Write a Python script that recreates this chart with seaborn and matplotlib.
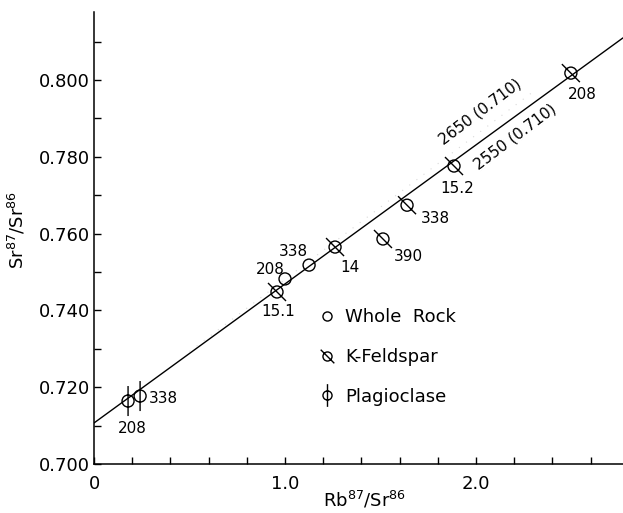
import numpy as np
import pandas as pd
import matplotlib
matplotlib.use("Agg")
import matplotlib.pyplot as plt
from matplotlib.path import Path
from matplotlib.lines import Line2D
import seaborn as sns

# values
mineral = ['Plagioclase', 'Plagioclase', 'K-Feldspar', 'Whole Rock', 'Whole Rock',
           'K-Feldspar', 'K-Feldspar', 'K-Feldspar', 'K-Feldspar', 'K-Feldspar']
rb_sr = [0.178, 0.241, 0.958, 1.000, 1.126, 1.262, 1.513, 1.639, 1.885, 2.497]
sr_sr = [0.7164, 0.7177, 0.7448, 0.7482, 0.7518, 0.7565, 0.7586, 0.7674, 0.7776, 0.8018]
sample = ['208', '338', '15.1', '208', '338', '14', '390', '338', '15.2', '208']

# isochrons: slope, initial ratio
iso_2550 = (0.0362, 0.7107)
iso_2650 = (0.0376, 0.7105)
iso_labels = ['2650 (0.710)', '2550 (0.710)']

legend_labels = ['Whole  Rock', 'K-Feldspar', 'Plagioclase']
y_ticks = [0.700, 0.720, 0.740, 0.760, 0.780, 0.800]
x_ticks = [0, 1.0, 2.0]
x_ticklabels = ['0', '1.0', '2.0']

df = pd.DataFrame({'rb': rb_sr, 'sr': sr_sr, 'mineral': mineral, 'sample': sample})

sns.set_style("ticks")
plt.rcParams['font.family'] = ['DejaVu Sans']
plt.rcParams['mathtext.default'] = 'regular'
for key in ['text.color', 'axes.labelcolor', 'xtick.color', 'ytick.color', 'axes.edgecolor']:
    plt.rcParams[key] = 'black'


def make_marker(kind):
    circ = Path.unit_circle()
    pad = 2.6
    verts = [(-pad, 0.0), (pad, 0.0)]
    codes = [Path.MOVETO, Path.MOVETO]
    verts += list(circ.vertices)
    codes += list(circ.codes)
    if kind == 'K-Feldspar':
        verts += [(-1.5, 1.5), (1.5, -1.5)]
        codes += [Path.MOVETO, Path.LINETO]
    elif kind == 'Plagioclase':
        verts += [(0.0, 2.5), (0.0, -2.5)]
        codes += [Path.MOVETO, Path.LINETO]
    return Path(verts, codes)


markers = {k: make_marker(k) for k in ['Whole Rock', 'K-Feldspar', 'Plagioclase']}

fig = plt.figure(figsize=(6.23, 5.13), dpi=100)
ax = fig.add_axes([0.151, 0.0955, 0.849, 0.881])

xmax = 2.77
line_x = np.array([0.0, xmax])
sns.lineplot(x=line_x, y=iso_2550[1] + iso_2550[0] * line_x, color='black', lw=1.0, ax=ax)
dot_x = np.array([0.5, 2.3])
sns.lineplot(x=dot_x, y=iso_2650[1] + iso_2650[0] * dot_x, color='0.85', lw=0.8,
             linestyle=(0, (1, 7)), ax=ax)

sns.scatterplot(data=df, x='rb', y='sr', style='mineral', markers=markers, s=505,
                facecolor='none', edgecolor='black', linewidth=1.0, legend=False, ax=ax,
                zorder=3)

# sample labels (offsets in pixels)
offsets = [(4, -27), (23, -2), (1, -20), (-15, 9), (-16, 14), (15, -20),
           (25, -18), (28, -13), (3, -22), (11, -21)]
for (xv, yv, lab), off in zip(zip(rb_sr, sr_sr, sample), offsets):
    ax.annotate(lab, (xv, yv), xytext=off, textcoords='offset pixels',
                ha='center', va='center', fontsize=11)

ax.text(2.02, 0.7917, iso_labels[0], rotation=37, ha='center', va='center',
        rotation_mode='anchor', fontsize=11)
ax.text(2.204, 0.7852, iso_labels[1], rotation=37, ha='center', va='center',
        rotation_mode='anchor', fontsize=11)

handles = [Line2D([], [], marker=markers[k], linestyle='none', markersize=17,
                  markerfacecolor='none', markeredgecolor='black', markeredgewidth=1.0)
           for k in ['Whole Rock', 'K-Feldspar', 'Plagioclase']]
ax.legend(handles, legend_labels, loc='center left', bbox_to_anchor=(0.423, 0.237),
          frameon=False, fontsize=13, handlelength=1.0, handletextpad=0.5,
          labelspacing=1.2, borderpad=0, borderaxespad=0)

ax.set_xlim(0, xmax)
ax.set_ylim(0.700, 0.8177)
ax.set_yticks(y_ticks)
ax.set_yticklabels([f'{v:.3f}' for v in y_ticks])
ax.set_yticks(np.arange(0.70, 0.8151, 0.01), minor=True)
ax.set_xticks(x_ticks)
ax.set_xticklabels(x_ticklabels)
ax.set_xticks(np.arange(0, 2.71, 0.2), minor=True)
ax.tick_params(which='both', direction='in', length=5, width=1.0, labelsize=13)
ax.tick_params(axis='x', pad=8)
ax.tick_params(axis='y', pad=3)

for side in ['top', 'right']:
    ax.spines[side].set_visible(False)
for side in ['left', 'bottom']:
    ax.spines[side].set_linewidth(1.1)

ax.set_xlabel('Rb$^{87}$/Sr$^{86}$', fontsize=13, labelpad=2)
ax.xaxis.set_label_coords(0.512, -0.057)
ax.set_ylabel('Sr$^{87}$/Sr$^{86}$', fontsize=13)
ax.yaxis.set_label_coords(-0.125, 0.518)

fig.savefig('out.png', dpi=100)
